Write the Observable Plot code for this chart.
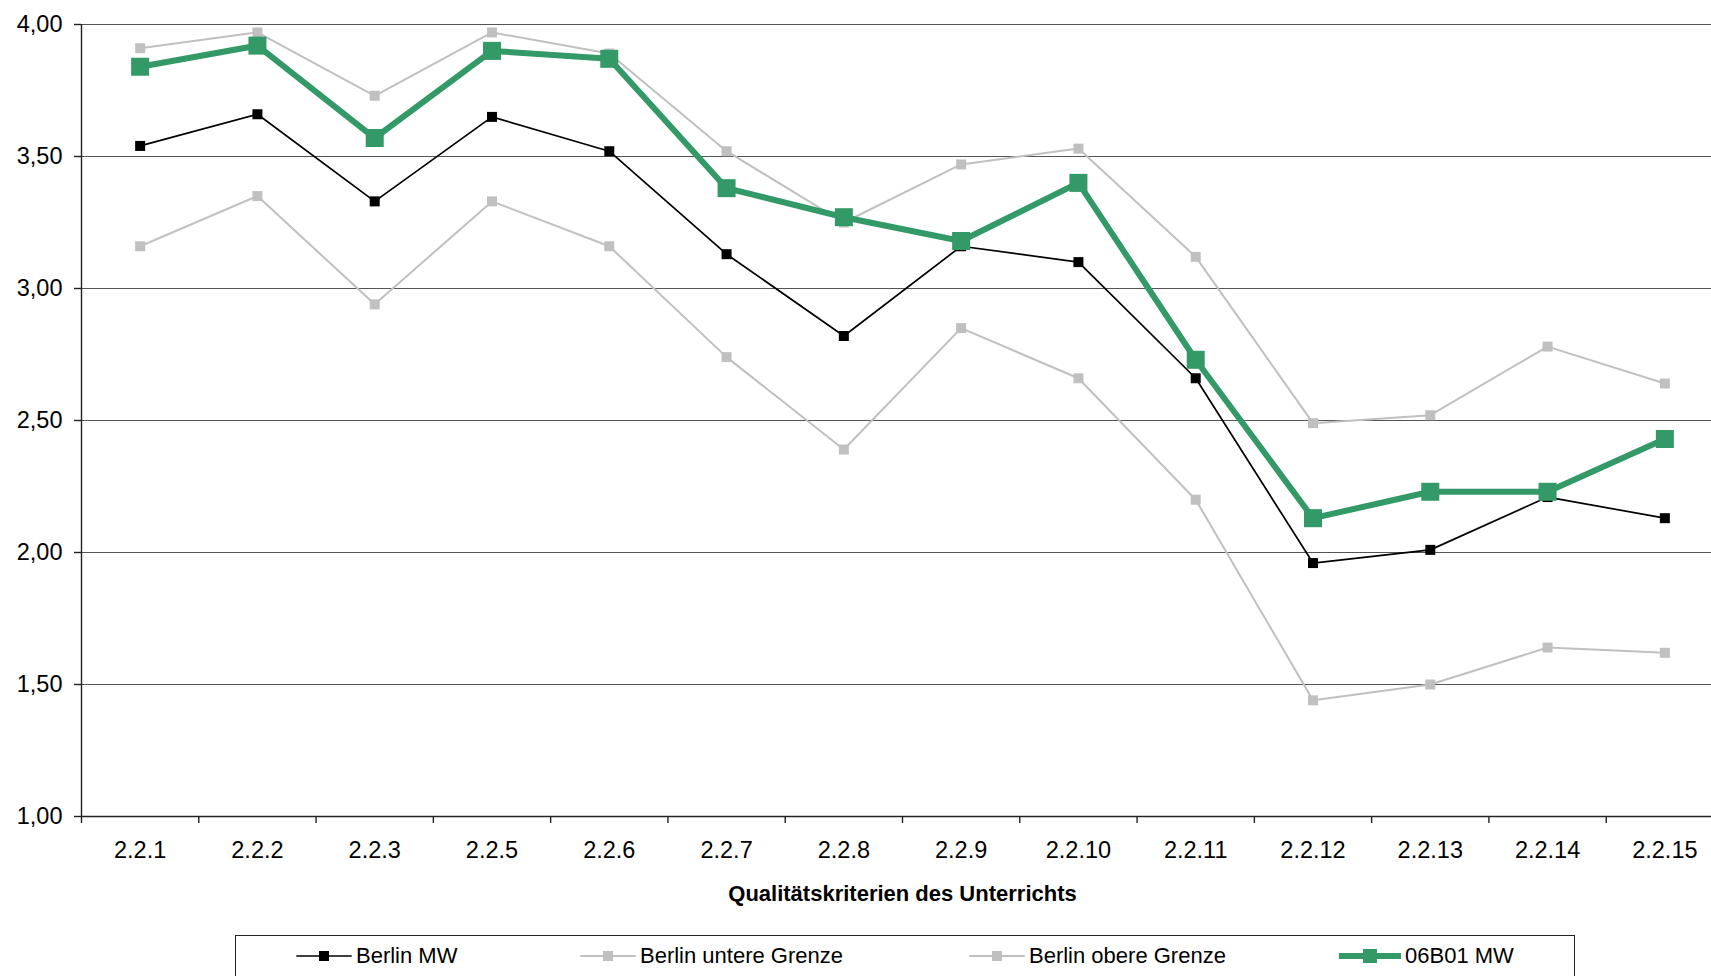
<!DOCTYPE html>
<html>
<head>
<meta charset="utf-8">
<script src="https://cdn.jsdelivr.net/npm/d3@7"></script>
<script src="https://cdn.jsdelivr.net/npm/@observablehq/plot@0.6"></script>
<style>
  body { margin: 0; background: #fff; font-family: "Liberation Sans", Arial, sans-serif; }
  #wrap { position: relative; width: 1711px; height: 976px; overflow: hidden; }
  #wrap svg { display: block; }
  .legend { position: absolute; left: 235px; top: 935px; width: 1340px; height: 70px;
            border: 1px solid #222; box-sizing: border-box; font-size: 22px; color: #000; }
  .item { position: absolute; top: 7px; height: 26px; display: flex; align-items: center; white-space: nowrap; }
  .item svg { margin-right: 4px; }
</style>
</head>
<body>
<div id="wrap"></div>
<script>
// Criteria on the x axis
const categories = ["2.2.1", "2.2.2", "2.2.3", "2.2.5", "2.2.6", "2.2.7", "2.2.8",
                    "2.2.9", "2.2.10", "2.2.11", "2.2.12", "2.2.13", "2.2.14", "2.2.15"];

// Mean values per criterion
const berlinMW     = [3.54, 3.66, 3.33, 3.65, 3.52, 3.13, 2.82, 3.16, 3.10, 2.66, 1.96, 2.01, 2.21, 2.13];
const berlinUntere = [3.16, 3.35, 2.94, 3.33, 3.16, 2.74, 2.39, 2.85, 2.66, 2.20, 1.44, 1.50, 1.64, 1.62];
const berlinObere  = [3.91, 3.97, 3.73, 3.97, 3.89, 3.52, 3.25, 3.47, 3.53, 3.12, 2.49, 2.52, 2.78, 2.64];
const schuleMW     = [3.84, 3.92, 3.57, 3.90, 3.87, 3.38, 3.27, 3.18, 3.40, 2.73, 2.13, 2.23, 2.23, 2.43];

const yTicks = [1.0, 1.5, 2.0, 2.5, 3.0, 3.5, 4.0];
const axisTitle = "Qualitätskriterien des Unterrichts";

const seriesNames = ["Berlin MW", "Berlin untere Grenze", "Berlin obere Grenze", "06B01 MW"];
const seriesValues = [berlinMW, berlinUntere, berlinObere, schuleMW];

// Styles per series: stroke colour, line width, square side
const seriesStyle = {
  "Berlin MW":            {color: "#000000", width: 1.7, side: 10},
  "Berlin untere Grenze": {color: "#c0c0c0", width: 2,   side: 10},
  "Berlin obere Grenze":  {color: "#c0c0c0", width: 2,   side: 10},
  "06B01 MW":             {color: "#339966", width: 6,   side: 18}
};

// Long table: one row per series and criterion
const rows = seriesNames.flatMap((name, i) =>
  categories.map((c, j) => ({series: name, criterion: c, value: seriesValues[i][j]})));

const width = 1711, height = 930;
const marginLeft = 81, marginRight = -12, marginTop = 24, marginBottom = 114;
const bandWidth = (width - marginRight - marginLeft) / categories.length;

const comma = d => d.toFixed(2).replace(".", ",");

const seriesMarks = seriesNames.flatMap(name => {
  const s = seriesStyle[name];
  const data = rows.filter(r => r.series === name);
  return [
    Plot.line(data, {x: "criterion", y: "value", stroke: s.color, strokeWidth: s.width, strokeLinejoin: "round"}),
    Plot.dot(data, {x: "criterion", y: "value", symbol: "square", r: s.side / Math.sqrt(Math.PI),
                    fill: s.color, stroke: "none"})
  ];
});

const chart = Plot.plot({
  width, height, marginLeft, marginRight, marginTop, marginBottom,
  style: {fontFamily: "'Liberation Sans', Arial, sans-serif", color: "#000", background: "#fff"},
  x: {type: "band", domain: categories, padding: 0, align: 0.5, round: false},
  y: {domain: [1, 4]},
  marks: [
    Plot.gridY(yTicks, {stroke: "#555", strokeOpacity: 1, strokeWidth: 1.2}),
    // axis lines
    Plot.ruleY([1], {stroke: "#222", strokeWidth: 1.4}),
    Plot.ruleX([categories[0]], {dx: -bandWidth / 2, stroke: "#222", strokeWidth: 1.4}),
    Plot.axisY(yTicks, {tickSize: 7, tickPadding: 12, tickFormat: comma, fontSize: 23.5, label: null,
                        stroke: "#222", strokeWidth: 1.4}),
    // category boundary ticks
    Plot.axisX({tickSize: 7, tickFormat: () => "", dx: -bandWidth / 2, label: null, stroke: "#222", strokeWidth: 1.4}),
    // category labels
    Plot.axisX({tickSize: 0, tickPadding: 25, fontSize: 23.5, label: null}),
    Plot.text([axisTitle], {text: d => d, frameAnchor: "bottom", dy: 77, lineAnchor: "middle",
                            fontWeight: "bold", fontSize: 22, fill: "#000"}),
    ...seriesMarks
  ]
});

const wrap = document.getElementById("wrap");
wrap.appendChild(chart);

// Legend below the chart
const legend = document.createElement("div");
legend.className = "legend";
const itemLeft = [60, 344, 733, 1103];
seriesNames.forEach((name, i) => {
  const s = seriesStyle[name];
  const item = document.createElement("div");
  item.className = "item";
  item.style.left = itemLeft[i] + "px";
  const sw = name === "06B01 MW" ? 62 : 56;
  const svg = d3.create("svg").attr("width", sw).attr("height", 26);
  svg.append("line").attr("x1", 1).attr("x2", sw - 1).attr("y1", 13).attr("y2", 13)
     .attr("stroke", s.color).attr("stroke-width", s.width).attr("stroke-linecap", "round");
  const side = name === "06B01 MW" ? 14 : 10;
  svg.append("rect").attr("x", sw / 2 - side / 2).attr("y", 13 - side / 2)
     .attr("width", side).attr("height", side).attr("fill", s.color);
  item.appendChild(svg.node());
  const label = document.createElement("span");
  label.textContent = name;
  item.appendChild(label);
  legend.appendChild(item);
});
wrap.appendChild(legend);
</script>
</body>
</html>
